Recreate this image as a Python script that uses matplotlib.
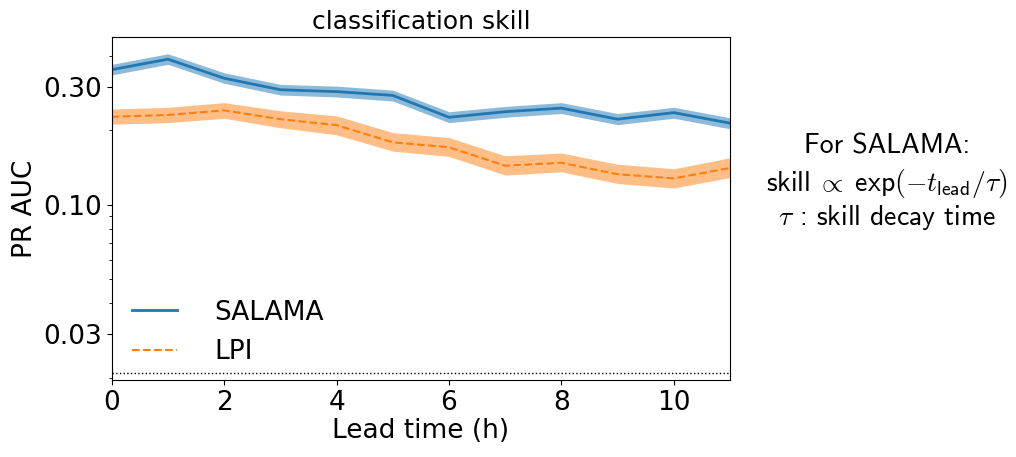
import matplotlib
matplotlib.use("Agg")
import matplotlib.pyplot as plt
import numpy as np

plt.rcParams['mathtext.fontset'] = 'cm'

# lead time (h)
lead = [0, 1, 2, 3, 4, 5, 6, 7, 8, 9, 10, 11]

# SALAMA PR AUC with band
salama = [0.352, 0.388, 0.325, 0.292, 0.287, 0.277, 0.226, 0.238, 0.246, 0.222, 0.236, 0.214]
salama_lo = [0.335, 0.370, 0.310, 0.278, 0.273, 0.263, 0.215, 0.226, 0.234, 0.211, 0.224, 0.203]
salama_hi = [0.370, 0.408, 0.342, 0.307, 0.302, 0.291, 0.238, 0.250, 0.259, 0.234, 0.248, 0.225]

# LPI PR AUC with band
lpi = [0.227, 0.231, 0.241, 0.222, 0.210, 0.179, 0.171, 0.144, 0.148, 0.133, 0.128, 0.141]
lpi_lo = [0.212, 0.215, 0.224, 0.205, 0.192, 0.165, 0.157, 0.132, 0.136, 0.122, 0.117, 0.129]
lpi_hi = [0.244, 0.248, 0.259, 0.240, 0.229, 0.196, 0.187, 0.158, 0.162, 0.146, 0.140, 0.155]

baseline = 0.021

fig = plt.figure(figsize=(10.16, 4.57), dpi=100)
ax = fig.add_axes([0.110, 0.1685, 0.6085, 0.7505])

ax.fill_between(lead, salama_lo, salama_hi, color="C0", alpha=0.5, lw=0)
ax.plot(lead, salama, color="C0", lw=2, label="SALAMA")
ax.fill_between(lead, lpi_lo, lpi_hi, color="C1", alpha=0.5, lw=0)
ax.plot(lead, lpi, color="C1", lw=1.5, ls="--", label="LPI")
ax.axhline(baseline, color="k", ls=":", lw=1)

ax.set_yscale("log")
ax.set_xlim(0, 11)
ax.set_ylim(0.0196, 0.477)
ax.set_yticks([0.03, 0.1, 0.3])
ax.set_yticklabels(["0.03", "0.10", "0.30"])
ax.set_xticks([0, 2, 4, 6, 8, 10])
ax.tick_params(labelsize=19)

ax.set_title("classification skill", fontsize=18)
ax.set_xlabel("Lead time (h)", fontsize=19, labelpad=2)
ax.set_ylabel("PR AUC", fontsize=19)
ax.legend(loc="lower left", frameon=False, fontsize=19, handlelength=1.7,
          handletextpad=1.4, bbox_to_anchor=(-0.005, -0.025))

fs = 20
kw = dict(ha="center", va="center", fontsize=fs, family="cmss10")
fig.text(0.873, 0.680, "For SALAMA:", **kw)
fig.text(0.873, 0.598, r"skill$\;\propto\;$exp$(-t_{\mathsf{lead}}/\tau)$", **kw)
fig.text(0.873, 0.523, r"$\tau$ : skill decay time", **kw)

fig.savefig("out.png", dpi=100)
